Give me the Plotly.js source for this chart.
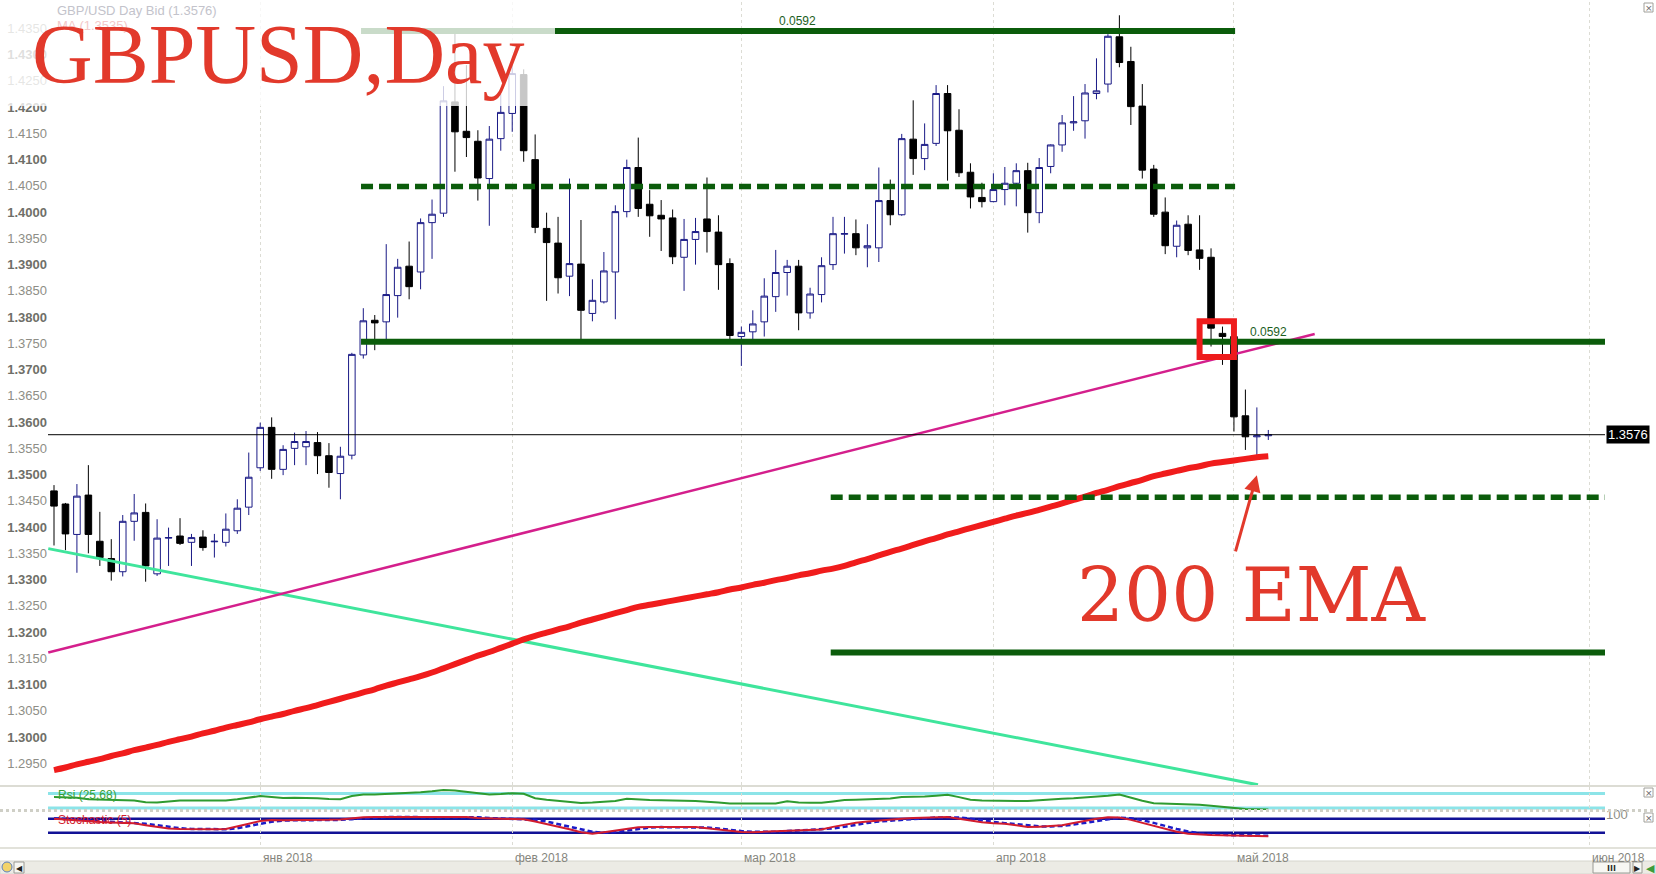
<!DOCTYPE html>
<html>
<head>
<meta charset="utf-8">
<script src="https://cdn.plot.ly/plotly-3.0.1.min.js"></script>
<style>
html,body{margin:0;padding:0;background:#fff;overflow:hidden}
#chart{width:1656px;height:874px}
</style>
</head>
<body>
<div id="chart"></div>
<script>
// GBP/USD daily bars, 6 Dec 2017 – 4 May 2018
const dates = [
  '2017-12-06','2017-12-07','2017-12-08','2017-12-11','2017-12-12','2017-12-13','2017-12-14','2017-12-15','2017-12-18','2017-12-19',
  '2017-12-20','2017-12-21','2017-12-22','2017-12-25','2017-12-26','2017-12-27','2017-12-28','2017-12-29',
  '2018-01-02','2018-01-03','2018-01-04','2018-01-05','2018-01-08','2018-01-09','2018-01-10','2018-01-11','2018-01-12','2018-01-15',
  '2018-01-16','2018-01-17','2018-01-18','2018-01-19','2018-01-22','2018-01-23','2018-01-24','2018-01-25','2018-01-26','2018-01-29',
  '2018-01-30','2018-01-31',
  '2018-02-01','2018-02-02','2018-02-05','2018-02-06','2018-02-07','2018-02-08','2018-02-09','2018-02-12','2018-02-13','2018-02-14',
  '2018-02-15','2018-02-16','2018-02-19','2018-02-20','2018-02-21','2018-02-22','2018-02-23','2018-02-26','2018-02-27','2018-02-28',
  '2018-03-01','2018-03-02','2018-03-05','2018-03-06','2018-03-07','2018-03-08','2018-03-09','2018-03-12','2018-03-13','2018-03-14',
  '2018-03-15','2018-03-16','2018-03-19','2018-03-20','2018-03-21','2018-03-22','2018-03-23','2018-03-26','2018-03-27','2018-03-28',
  '2018-03-29','2018-03-30',
  '2018-04-02','2018-04-03','2018-04-04','2018-04-05','2018-04-06','2018-04-09','2018-04-10','2018-04-11','2018-04-12','2018-04-13',
  '2018-04-16','2018-04-17','2018-04-18','2018-04-19','2018-04-20','2018-04-23','2018-04-24','2018-04-25','2018-04-26','2018-04-27',
  '2018-04-30',
  '2018-05-01','2018-05-02','2018-05-03','2018-05-04'
];

const open = [
  1.3469,1.3444,1.3386,1.3461,1.3373,1.3340,1.3315,1.3411,1.3428,1.3311,
  1.3379,1.3383,1.3371,1.3381,1.3372,1.3371,1.3393,1.3438,1.3513,1.3590,
  1.3510,1.3550,1.3553,1.3561,1.3536,1.3502,1.3537,1.3728,1.3794,1.3791,
  1.3841,1.3897,1.3886,1.3980,1.3998,1.4210,1.4154,1.4135,1.4064,1.4140,
  1.4188,1.4262,1.4100,1.3969,1.3941,1.3878,1.3901,1.3807,1.3829,1.3886,
  1.4001,1.4085,1.4015,1.3994,1.3989,1.3914,1.3948,1.3987,1.3962,1.3902,
  1.3763,1.3772,1.3791,1.3839,1.3885,1.3897,1.3808,1.3843,1.3900,1.3958,
  1.3959,1.3932,1.3932,1.4022,1.3995,1.4139,1.4102,1.4131,1.4226,1.4156,
  1.4076,1.4028,1.4020,1.4043,1.4055,1.4079,1.3999,1.4087,1.4128,1.4170,
  1.4174,1.4226,1.4244,1.4334,1.4287,1.4202,1.4082,1.4000,1.3935,1.3977,
  1.3928,1.3914,1.3769,1.3763,1.3612,1.3572,1.3574
];
const high = [
  1.3480,1.3446,1.3482,1.3518,1.3429,1.3377,1.3423,1.3463,1.3445,1.3415,
  1.3399,1.3417,1.3387,1.3394,1.3387,1.3426,1.3453,1.3542,1.3599,1.3609,
  1.3556,1.3580,1.3583,1.3581,1.3560,1.3553,1.3732,1.3817,1.3804,1.3939,
  1.3911,1.3944,1.3988,1.4024,1.4240,1.4340,1.4280,1.4156,1.4164,1.4225,
  1.4286,1.4272,1.4148,1.3999,1.3991,1.4064,1.3985,1.3872,1.3924,1.4013,
  1.4100,1.4142,1.4042,1.4023,1.4005,1.3987,1.3989,1.4066,1.3994,1.3912,
  1.3782,1.3813,1.3874,1.3928,1.3909,1.3909,1.3856,1.3914,1.3991,1.3991,
  1.3986,1.3977,1.4085,1.4062,1.4149,1.4213,1.4169,1.4242,1.4242,1.4196,
  1.4093,1.4056,1.4074,1.4086,1.4093,1.4094,1.4103,1.4129,1.4185,1.4221,
  1.4244,1.4293,1.4339,1.4375,1.4315,1.4244,1.4090,1.4028,1.3984,1.3994,
  1.3994,1.3931,1.3782,1.3766,1.3662,1.3628,1.3585
];
const low = [
  1.3365,1.3356,1.3313,1.3350,1.3326,1.3298,1.3306,1.3374,1.3296,1.3307,
  1.3326,1.3366,1.3326,1.3355,1.3342,1.3363,1.3387,1.3423,1.3507,1.3492,
  1.3499,1.3518,1.3518,1.3501,1.3475,1.3453,1.3529,1.3721,1.3737,1.3758,
  1.3799,1.3834,1.3853,1.3911,1.3991,1.4077,1.4105,1.4022,1.3974,1.4117,
  1.4153,1.4096,1.3960,1.3831,1.3845,1.3840,1.3756,1.3792,1.3826,1.3796,
  1.3990,1.3991,1.3953,1.3926,1.3901,1.3850,1.3900,1.3923,1.3852,1.3756,
  1.3707,1.3756,1.3763,1.3810,1.3841,1.3775,1.3797,1.3828,1.3890,1.3921,
  1.3918,1.3895,1.3905,1.3975,1.3993,1.4071,1.4080,1.4126,1.4060,1.4067,
  1.4007,1.4009,1.4019,1.4013,1.4011,1.3961,1.3979,1.4074,1.4115,1.4155,
  1.4140,1.4215,1.4228,1.4276,1.4166,1.4064,1.3991,1.3920,1.3914,1.3918,
  1.3890,1.3744,1.3709,1.3582,1.3547,1.3536,1.3566
];
const close = [
  1.3440,1.3387,1.3459,1.3386,1.3342,1.3315,1.3411,1.3427,1.3326,1.3379,
  1.3380,1.3369,1.3380,1.3361,1.3373,1.3396,1.3436,1.3495,1.3590,1.3510,
  1.3548,1.3563,1.3563,1.3536,1.3504,1.3535,1.3729,1.3793,1.3789,1.3843,
  1.3895,1.3858,1.3980,1.3996,1.4212,1.4153,1.4142,1.4065,1.4139,1.4190,
  1.4264,1.4117,1.3971,1.3942,1.3875,1.3902,1.3813,1.3832,1.3888,1.4001,
  1.4085,1.4007,1.3993,1.3987,1.3915,1.3948,1.3963,1.3963,1.3900,1.3765,
  1.3771,1.3787,1.3840,1.3885,1.3897,1.3808,1.3844,1.3898,1.3959,1.3959,
  1.3932,1.3936,1.4022,1.3995,1.4140,1.4102,1.4129,1.4226,1.4155,1.4075,
  1.4029,1.4020,1.4043,1.4055,1.4079,1.3999,1.4085,1.4128,1.4170,1.4172,
  1.4227,1.4231,1.4335,1.4285,1.4201,1.4080,1.3996,1.3936,1.3975,1.3927,
  1.3912,1.3779,1.3763,1.3610,1.3572,1.3574,1.3576
];

// 200-period EMA
const ema200 = [
  1.2937,1.2942,1.2948,1.2953,1.2958,1.2964,1.2969,1.2975,1.2980,1.2985,
  1.2991,1.2996,1.3001,1.3007,1.3012,1.3018,1.3023,1.3028,1.3034,1.3039,
  1.3044,1.3050,1.3055,1.3061,1.3067,1.3073,1.3079,1.3085,1.3091,1.3098,
  1.3104,1.3110,1.3116,1.3123,1.3131,1.3139,1.3147,1.3155,1.3162,1.3170,
  1.3178,1.3186,1.3193,1.3199,1.3205,1.3211,1.3218,1.3224,1.3230,1.3236,
  1.3242,1.3248,1.3252,1.3256,1.3260,1.3264,1.3268,1.3272,1.3276,1.3281,
  1.3285,1.3290,1.3294,1.3299,1.3303,1.3308,1.3312,1.3317,1.3321,1.3326,
  1.3333,1.3339,1.3346,1.3353,1.3359,1.3366,1.3373,1.3379,1.3386,1.3392,
  1.3398,1.3404,1.3410,1.3416,1.3422,1.3427,1.3433,1.3439,1.3445,1.3452,
  1.3458,1.3465,1.3471,1.3478,1.3484,1.3490,1.3497,1.3502,1.3507,1.3512,
  1.3516,1.3521,1.3524,1.3527,1.3530,1.3533,1.3535
];

// RSI(14)
const rsi = [
  60,59.5,58.5,54,53,53,52,51,46,45,
  48,51,51,51,50.5,51,54,58,63,60,
  57.6,58,58.5,57,55,54,63,67,67.5,68.5,
  70,71,73.5,76,79.5,78,75,71,67,68.5,
  71,69,57,53,49.6,47,43.5,45,48,49.6,
  55.8,53.5,52,51.3,50,50,49.6,48,45.5,42.5,
  42.5,42.5,42.5,42.5,48.7,45,44.2,44.2,48,52,
  53,54,55.8,56,60,60,62,64,66.4,60,
  53,51,50,48.7,49,49.6,52,53,55.8,57,
  59,60,64,67.3,58,50,43,42.5,41.5,40.7,
  39,36,33,28,27,26.5,25.68
];

// Stochastic (5): %K and %D
const stochK = [
  80,76,72,69,66,64,62,60,52,44,
  38,36,35,35,35,36,46,58,70,74,
  73,73,73,74,75,77,82,86,87,87,
  88,87,88,87,88,87,87,83,80,80,
  79,78,68,58,48,35,22,16,22,30,
  38,43,44,45,44,44,44,38,32,26,
  23,22,24,27,30,32,34,34,45,55,
  63,68,73,76,80,83,85,87,87,80,
  72,65,60,58,52,44,46,50,52,62,
  72,80,86,85,75,62,48,35,24,16,
  12,10,9,9,8,6,5
];
const stochD = [
  82,79,76,72,69,66,64,62,58,52,
  45,39,36,35,35,35,39,47,58,67,
  72,73,73,73,74,75,78,82,85,87,
  87,87,88,87,88,87,87,86,83,81,
  80,79,75,68,58,47,35,24,20,23,
  30,37,42,44,44,44,44,42,38,32,
  27,24,23,24,27,30,32,33,38,45,
  54,62,68,72,76,80,83,85,86,85,
  80,72,66,61,57,51,47,47,49,55,
  62,71,79,84,82,74,62,48,36,25,
  17,13,10,9,9,8,7
];

// Month markers (bar positions; June falls in the calendar-day future zone)
const monthStarts = [18, 40, 60, 82, 103, 134];
const monthLabels = ['янв 2018', 'фев 2018', 'мар 2018', 'апр 2018', 'май 2018', 'июн 2018'];

const priceTicks = [
  1.2950,1.3000,1.3050,1.3100,1.3150,1.3200,1.3250,1.3300,1.3350,1.3400,
  1.3450,1.3500,1.3550,1.3600,1.3650,1.3700,1.3750,1.3800,1.3850,1.3900,
  1.3950,1.4000,1.4050,1.4100,1.4150,1.4200,1.4250,1.4300,1.4350
];

// Channel levels: height 0.0592, with half-step projections
const channelHeight = 0.0592;
const levelPrice  = [1.4345, 1.4049, 1.3753, 1.3457, 1.3161];
const levelFrom   = [26.8, 26.8, 26.8, 67.8, 67.8];
const levelTo     = [103.1, 103.1, 135.4, 135.4, 135.4];
const levelDashed = [false, true, false, true, false];

// Trend lines (bar index, price)
const riseTrendX = [-0.5, 110.05];
const riseTrendY = [1.3161, 1.3768];
const fallTrendX = [-0.5, 105.1];
const fallTrendY = [1.3359, 1.2909];

const lastPrice = 1.3576;
const lastEma = 1.3535;
const lastRsi = 25.68;
const rsiLevels = [70, 30];
const stochLevels = [80, 20];
const highlightBars = [101, 102];
const highlightPrice = [1.3724, 1.3792];

const idx = dates.map((d, i) => i);

// ---------- layout geometry ----------
const W = 1656, H = 874;
const M = {l: 48, r: 51, t: 2, b: 26};
const plotH = H - M.t - M.b;
const pY = py => (H - M.b - py) / plotH;          // pixel row -> paper y
const pX = px => (px - M.l) / (W - M.l - M.r);    // pixel col -> paper x
const at = (x, y) => ({xref: 'paper', yref: 'paper', x: 0, y: 1, xshift: x - M.l, yshift: -(y - M.t)});

const priceRange = [1.29087, 1.44003];
const xRange = [-0.524, 135.39];

const tickText = priceTicks.map(v => {
  const s = v.toFixed(4);
  return Math.round(v * 10000) % 100 === 0
    ? '<span style="color:#6f6f68"><b>' + s + '</b></span>'
    : s;
});
const majorTicks = priceTicks.filter(v => Math.round(v * 10000) % 100 === 0);
const minorTicks = priceTicks.filter(v => Math.round(v * 10000) % 100 !== 0);

const traces = [];

traces.push({
  type: 'candlestick', x: idx, open: open, high: high, low: low, close: close,
  xaxis: 'x', yaxis: 'y', whiskerwidth: 0, hoverinfo: 'skip',
  increasing: {line: {color: '#1a1a86', width: 1}, fillcolor: '#ffffff'},
  decreasing: {line: {color: '#000000', width: 1}, fillcolor: '#000000'}
});

traces.push({type: 'scatter', mode: 'lines', x: fallTrendX, y: fallTrendY, xaxis: 'x', yaxis: 'y',
  line: {color: '#3fe59c', width: 3}, hoverinfo: 'skip'});
traces.push({type: 'scatter', mode: 'lines', x: riseTrendX, y: riseTrendY, xaxis: 'x', yaxis: 'y',
  line: {color: '#d41f8c', width: 2.5}, hoverinfo: 'skip'});
traces.push({type: 'scatter', mode: 'lines', x: idx, y: ema200, xaxis: 'x', yaxis: 'y',
  line: {color: '#f01c1c', width: 6, shape: 'spline', smoothing: 1}, hoverinfo: 'skip'});

levelPrice.forEach((p, k) => {
  traces.push({type: 'scatter', mode: 'lines', x: [levelFrom[k], levelTo[k]], y: [p, p],
    xaxis: 'x', yaxis: 'y', hoverinfo: 'skip',
    line: {color: '#0b5c0b', width: levelDashed[k] ? 5.5 : 6, dash: levelDashed[k] ? '12px,6px' : 'solid'}});
});

traces.push({type: 'scatter', mode: 'lines', x: xRange, y: [lastPrice, lastPrice], xaxis: 'x', yaxis: 'y',
  line: {color: '#000000', width: 1}, hoverinfo: 'skip'});

traces.push({type: 'scatter', mode: 'lines', x: idx, y: rsi, xaxis: 'x', yaxis: 'y4',
  line: {color: '#2f9b2f', width: 2}, hoverinfo: 'skip'});
traces.push({type: 'scatter', mode: 'lines', x: idx, y: stochD, xaxis: 'x', yaxis: 'y5',
  line: {color: '#1c1cc8', width: 2.5, dash: '5px,3px'}, hoverinfo: 'skip'});
traces.push({type: 'scatter', mode: 'lines', x: idx, y: stochK, xaxis: 'x', yaxis: 'y5',
  line: {color: '#d21c2e', width: 2}, hoverinfo: 'skip'});

const tickFont = {family: 'Liberation Sans, Arial, sans-serif', size: 13, color: '#8e8e86'};

const shapes = [];
// indicator level lines
rsiLevels.forEach(v => shapes.push({type: 'line', xref: 'paper', yref: 'y4', x0: 0, x1: 1, y0: v, y1: v,
  line: {color: '#8ce4e8', width: 3}, layer: 'below'}));
stochLevels.forEach(v => shapes.push({type: 'line', xref: 'paper', yref: 'y5', x0: 0, x1: 1, y0: v, y1: v,
  line: {color: '#121296', width: 2.5}, layer: 'below'}));
// pane separators
shapes.push({type: 'line', xref: 'paper', yref: 'paper', x0: pX(0), x1: pX(W), y0: pY(786), y1: pY(786),
  line: {color: '#dcdcd4', width: 2}, layer: 'above'});
shapes.push({type: 'line', xref: 'paper', yref: 'paper', x0: pX(0), x1: pX(W), y0: pY(810.5), y1: pY(810.5),
  line: {color: '#cfcfc6', width: 3, dash: 'dot'}, layer: 'above'});
shapes.push({type: 'line', xref: 'paper', yref: 'paper', x0: pX(0), x1: pX(W), y0: pY(848), y1: pY(848),
  line: {color: '#e2e2da', width: 2}, layer: 'above'});
// highlighted bars
shapes.push({type: 'rect', xref: 'x', yref: 'y',
  x0: highlightBars[0] - 1, x1: highlightBars[1] + 1, y0: highlightPrice[0], y1: highlightPrice[1],
  line: {color: '#ee1c1c', width: 6}, fillcolor: 'rgba(0,0,0,0)', layer: 'above'});
// translucent panel behind the title
shapes.push({type: 'rect', xref: 'paper', yref: 'paper', x0: pX(0), x1: pX(555), y0: pY(106), y1: pY(0),
  line: {width: 0}, fillcolor: 'rgba(255,255,255,0.78)', layer: 'above'});
// bottom scroll bar
shapes.push({type: 'rect', xref: 'paper', yref: 'paper', x0: pX(0), x1: pX(W), y0: pY(874), y1: pY(861),
  line: {color: '#d6d6ce', width: 1}, fillcolor: '#ecebe5', layer: 'above'});
shapes.push({type: 'circle', xref: 'paper', yref: 'paper', x0: pX(2), x1: pX(12), y0: pY(872), y1: pY(862),
  line: {color: '#5a7fc0', width: 1}, fillcolor: '#f2d36a', layer: 'above'});
[[14, 24], [1593, 1630], [1633, 1642]].forEach(b => shapes.push({type: 'rect', xref: 'paper', yref: 'paper',
  x0: pX(b[0]), x1: pX(b[1]), y0: pY(873), y1: pY(862), line: {color: '#9a9a94', width: 1},
  fillcolor: '#f7f7f3', layer: 'above'}));
// small close boxes
[[3, 12], [788, 797], [813, 822]].forEach(b => shapes.push({type: 'rect', xref: 'paper', yref: 'paper',
  x0: pX(1644), x1: pX(1653), y0: pY(b[1]), y1: pY(b[0]), line: {color: '#a0a09a', width: 1},
  fillcolor: '#ffffff', layer: 'above'}));

const annotations = [];
const ann = (o) => annotations.push(Object.assign({showarrow: false}, o));

// chart header
ann(Object.assign(at(55, 10), {text: 'GBP/USD Day Bid (' + lastPrice.toFixed(4) + ')', xanchor: 'left', yanchor: 'middle',
  font: {family: 'Liberation Sans, Arial, sans-serif', size: 13, color: '#c3c3cb'}}));
ann(Object.assign(at(55, 25), {text: 'MA (' + lastEma.toFixed(4) + ')', xanchor: 'left', yanchor: 'middle',
  font: {family: 'Liberation Sans, Arial, sans-serif', size: 13, color: '#f3c8c8'}}));
// big title
ann(Object.assign(at(30, 54), {text: 'GBPUSD,Day', xanchor: 'left', yanchor: 'middle',
  font: {family: 'Liberation Serif, Times New Roman, serif', size: 84, color: '#e2392b'}}));

// channel height labels
ann({xref: 'x', yref: 'y', x: 64.9, y: levelPrice[0], yanchor: 'bottom', xanchor: 'center', yshift: 1,
  text: channelHeight.toFixed(4), font: {family: 'Liberation Sans, Arial, sans-serif', size: 12, color: '#1d5e1d'}});
ann({xref: 'x', yref: 'y', x: 106, y: levelPrice[2], yanchor: 'bottom', xanchor: 'center', yshift: 1,
  text: channelHeight.toFixed(4), font: {family: 'Liberation Sans, Arial, sans-serif', size: 12, color: '#1d5e1d'}});

// last price tag on the right scale
ann({xref: 'paper', yref: 'y', x: 1, y: lastPrice, xanchor: 'left', yanchor: 'middle', xshift: 1,
  text: lastPrice.toFixed(4), bgcolor: '#000000', borderpad: 1,
  font: {family: 'Liberation Sans, Arial, sans-serif', size: 13, color: '#ffffff'}});

// 200 EMA callout
ann(Object.assign(at(1252, 595), {text: '200 EMA', xanchor: 'center', yanchor: 'middle',
  font: {family: 'DejaVu Serif, Georgia, serif', size: 74, color: '#e2392b'}}));
annotations.push({xref: 'x', yref: 'y', axref: 'x', ayref: 'y', x: 105.0, y: 1.3499, ax: 103.1, ay: 1.3351,
  text: '', showarrow: true, arrowhead: 2, arrowsize: 1.1, arrowwidth: 3, arrowcolor: '#e2392b'});

// indicator captions
ann(Object.assign(at(56, 795), {text: 'Rsi (' + lastRsi.toFixed(2).replace('.', ',') + ')', xanchor: 'left', yanchor: 'middle',
  font: {family: 'Liberation Sans, Arial, sans-serif', size: 12, color: '#37a037'}}));
ann(Object.assign(at(56, 820), {text: 'Stochastic (5)', xanchor: 'left', yanchor: 'middle',
  font: {family: 'Liberation Sans, Arial, sans-serif', size: 12, color: '#d21c2e'}}));

// month labels
monthStarts.forEach((m, k) => ann({xref: 'x', yref: 'paper', x: m, y: 0, xanchor: 'left', yanchor: 'top',
  xshift: 1, yshift: -1, text: monthLabels[k],
  font: {family: 'Liberation Sans, Arial, sans-serif', size: 12, color: '#85857d'}}));

// scroll bar glyphs
ann(Object.assign(at(19, 867.5), {text: '◀', xanchor: 'center', yanchor: 'middle', font: {size: 8, color: '#222'}}));
ann(Object.assign(at(1611.5, 867.5), {text: '<b>III</b>', xanchor: 'center', yanchor: 'middle', font: {size: 9, color: '#222'}}));
ann(Object.assign(at(1637.5, 867.5), {text: '▶', xanchor: 'center', yanchor: 'middle', font: {size: 8, color: '#222'}}));
ann(Object.assign(at(1650, 867.5), {text: '◀', xanchor: 'center', yanchor: 'middle', font: {size: 11, color: '#3c9c3c'}}));
[7.5, 792.5, 817.5].forEach(y => ann(Object.assign(at(1648.5, y), {text: '×', xanchor: 'center', yanchor: 'middle',
  font: {family: 'DejaVu Sans', size: 9, color: '#666'}})));

const layout = {
  width: W, height: H,
  margin: {l: M.l, r: M.r, t: M.t, b: M.b, pad: 0},
  paper_bgcolor: '#ffffff', plot_bgcolor: '#ffffff',
  showlegend: false, hovermode: false, boxgap: 0.18,
  xaxis: {
    type: 'linear', range: xRange, anchor: 'y5',
    tickmode: 'array', tickvals: monthStarts, showticklabels: false, ticks: '',
    showgrid: true, gridcolor: '#dcdcd4', griddash: 'dot', gridwidth: 1,
    zeroline: false, showline: false, rangeslider: {visible: false}
  },
  yaxis: {
    domain: [pY(785), 1], range: priceRange, side: 'left',
    tickmode: 'array', tickvals: priceTicks, ticktext: tickText, ticks: '',
    tickfont: tickFont, showgrid: false, zeroline: false, showline: false
  },
  yaxis2: {
    overlaying: 'y', side: 'right', range: priceRange,
    tickmode: 'array', tickvals: priceTicks, ticktext: tickText, ticks: '',
    tickfont: tickFont, showgrid: false, zeroline: false, showline: false
  },
  yaxis3: {
    overlaying: 'y', side: 'left', range: priceRange, showticklabels: false, ticks: '',
    tickmode: 'array', tickvals: majorTicks,
    showgrid: true, gridcolor: '#d8d8d0', griddash: '4px,3px', gridwidth: 1,
    minor: {tickmode: 'array', tickvals: minorTicks, showgrid: true, gridcolor: '#e8e8e0', griddash: 'dot', gridwidth: 1},
    zeroline: false, showline: false
  },
  yaxis4: {
    domain: [pY(810), pY(787)], range: [24.5, 87.9],
    showticklabels: false, ticks: '', showgrid: false, zeroline: false, showline: false
  },
  yaxis5: {
    domain: [0, pY(812)], range: [-45.6, 108.7], side: 'right',
    tickmode: 'array', tickvals: [100], ticktext: ['100'], ticks: '', tickfont: tickFont,
    showgrid: false, zeroline: false, showline: false
  },
  shapes: shapes,
  annotations: annotations
};

Plotly.newPlot('chart', traces, layout, {staticPlot: true, displayModeBar: false});
</script>
</body>
</html>
